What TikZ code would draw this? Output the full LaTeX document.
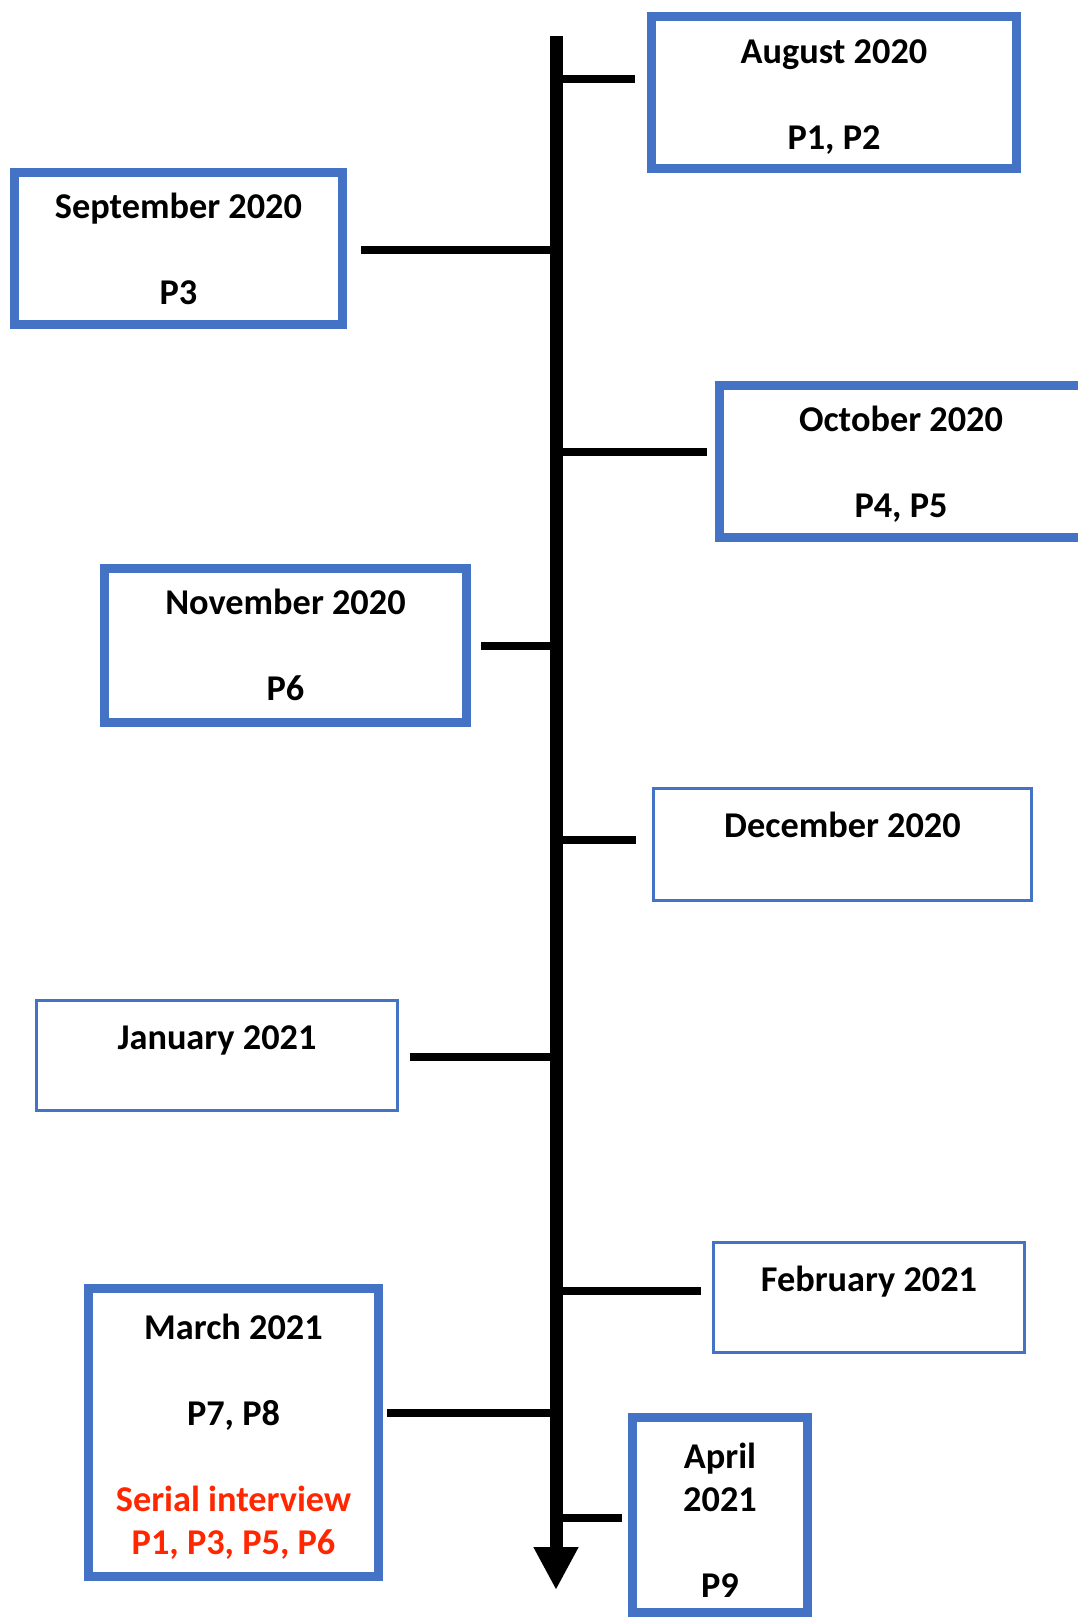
\documentclass[tikz,border=0pt]{standalone}
\usepackage{fontspec}
\setmainfont{Carlito}
\usetikzlibrary{positioning,arrows.meta}
\definecolor{boxblue}{HTML}{4472C4}
\definecolor{serialred}{RGB}{255,38,0}
\tikzset{
    month/.style={font=\fontsize{36.3pt}{43pt}\selectfont\bfseries, align=center,
        inner sep=0pt, execute at begin node=\rule{0pt}{30pt}},
    bigbox/.style={draw=boxblue, line width=9pt, inner sep=0pt},
    smallbox/.style={draw=boxblue, line width=3pt, inner sep=0pt},
    tick/.style={line width=8pt}
}
\begin{document}
\begin{tikzpicture}
    [x=1pt,y=-1pt]
    \useasboundingbox (0,0) rectangle (1077,1618);
    %axis
    \coordinate (top) at (556,36);
    \coordinate (bottom) at (556,1590);
    \draw[line width=13pt,-{Triangle[width=42pt,length=43pt]}] (top)--(bottom);
    %boxes
    \node[bigbox, minimum width=365pt, minimum height=152pt] (aug) at (834,92.5) {};
    \node[month, below=27.5pt of aug.north] (aug-text) {August 2020\\[43pt]P1, P2};
    \node[bigbox, minimum width=328pt, minimum height=152pt] (sep) at (178.5,248.5) {};
    \node[month, below=25pt of sep.north] (sep-text) {September 2020\\[43pt]P3};
    \node[bigbox, minimum width=363pt, minimum height=152pt] (oct) at (901,461.5) {};
    \node[month, below=25pt of oct.north] (oct-text) {October 2020\\[43pt]P4, P5};
    \node[bigbox, minimum width=362pt, minimum height=154pt] (nov) at (285.5,645.5) {};
    \node[month, below=25pt of nov.north] (nov-text) {November 2020\\[43pt]P6};
    \node[smallbox, minimum width=378pt, minimum height=112pt] (dec) at (842.5,844.5) {};
    \node[month, below=20.5pt of dec.north] (dec-text) {December 2020};
    \node[smallbox, minimum width=361pt, minimum height=110pt] (jan) at (217,1055.5) {};
    \node[month, below=20.5pt of jan.north] (jan-text) {January 2021};
    \node[smallbox, minimum width=311pt, minimum height=110pt] (feb) at (869,1297.5) {};
    \node[month, below=20.5pt of feb.north] (feb-text) {February 2021};
    \node[bigbox, minimum width=290pt, minimum height=288pt] (mar) at (233.5,1432.5) {};
    \node[month, below=30pt of mar.north] (mar-text) {March 2021\\[43pt]P7, P8\\[43pt]
        \textcolor{serialred}{Serial interview}\\\textcolor{serialred}{P1, P3, P5, P6}};
    \node[bigbox, minimum width=175pt, minimum height=195pt] (apr) at (720,1515) {};
    \node[month, below=30pt of apr.north] (apr-text) {April\\2021\\[43pt]P9};
    %ticks
    \coordinate (t-aug) at (556,79);
    \coordinate (t-sep) at (556,250);
    \coordinate (t-oct) at (556,452);
    \coordinate (t-nov) at (556,646);
    \coordinate (t-dec) at (556,840);
    \coordinate (t-jan) at (556,1057);
    \coordinate (t-feb) at (556,1291);
    \coordinate (t-mar) at (556,1413);
    \coordinate (t-apr) at (556,1518);
    \draw[tick, shorten >=12pt] (t-aug)--(t-aug -| aug.west);
    \draw[tick, shorten >=14pt] (t-sep)--(t-sep -| sep.east);
    \draw[tick, shorten >=8pt] (t-oct)--(t-oct -| oct.west);
    \draw[tick, shorten >=9.5pt] (t-nov)--(t-nov -| nov.east);
    \draw[tick, shorten >=16pt] (t-dec)--(t-dec -| dec.west);
    \draw[tick, shorten >=11pt] (t-jan)--(t-jan -| jan.east);
    \draw[tick, shorten >=11pt] (t-feb)--(t-feb -| feb.west);
    \draw[tick, shorten >=4pt] (t-mar)--(t-mar -| mar.east);
    \draw[tick, shorten >=6pt] (t-apr)--(t-apr -| apr.west);
\end{tikzpicture}
\end{document}
